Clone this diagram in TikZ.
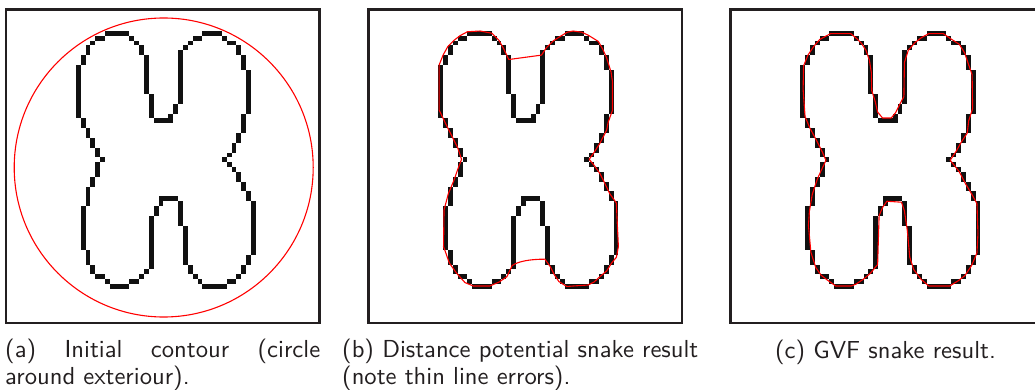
\documentclass[tikz,border=0pt]{standalone}
\usepackage{fontspec}
\newfontfamily\capfont{lmsans10-regular.otf}
\definecolor{framegray}{HTML}{231F20}
\definecolor{pixblack}{HTML}{111111}
\definecolor{snakered}{HTML}{FF0000}

% one run of image pixels, columns #1..#3, rows #2..#4 (inclusive)
\newcommand\pxrun[4]{\fill[pixblack] (#1,#2) rectangle ({#3+1},{#4+1});}

% the 64x64 binary test image: a one-pixel contour shaped like an X
\newcommand\blobpixels{%
  % upper left lobe
  \pxrun{20}{4}{24}{4}\pxrun{18}{5}{19}{5}\pxrun{25}{5}{25}{5}
  \pxrun{17}{6}{17}{6}\pxrun{26}{6}{26}{6}
  \pxrun{16}{7}{16}{8}\pxrun{27}{7}{27}{8}
  \pxrun{15}{9}{15}{10}\pxrun{28}{9}{28}{16}
  \pxrun{14}{11}{14}{21}\pxrun{29}{17}{29}{21}
  \pxrun{30}{22}{33}{22}
  \pxrun{15}{22}{15}{23}\pxrun{16}{24}{16}{25}\pxrun{17}{26}{17}{27}
  \pxrun{18}{28}{18}{29}\pxrun{19}{30}{19}{30}
  % upper right lobe
  \pxrun{33}{21}{33}{21}\pxrun{34}{19}{34}{20}\pxrun{35}{8}{35}{18}
  \pxrun{36}{7}{36}{7}\pxrun{37}{6}{37}{6}\pxrun{38}{5}{39}{5}
  \pxrun{40}{4}{43}{4}\pxrun{44}{5}{44}{5}\pxrun{45}{6}{46}{6}
  \pxrun{47}{7}{47}{8}\pxrun{48}{9}{48}{11}\pxrun{49}{12}{49}{20}
  \pxrun{48}{21}{48}{24}\pxrun{47}{25}{47}{26}\pxrun{46}{27}{46}{28}
  \pxrun{45}{29}{45}{29}\pxrun{44}{30}{44}{30}
  % lower left lobe
  \pxrun{18}{31}{18}{33}\pxrun{17}{34}{17}{35}\pxrun{16}{36}{16}{39}
  \pxrun{15}{40}{15}{48}\pxrun{16}{49}{16}{51}\pxrun{17}{52}{17}{53}
  \pxrun{18}{54}{19}{54}\pxrun{20}{55}{20}{55}\pxrun{21}{56}{24}{56}
  \pxrun{25}{55}{26}{55}\pxrun{27}{54}{27}{54}\pxrun{28}{53}{28}{53}
  \pxrun{29}{42}{29}{52}\pxrun{30}{40}{30}{41}\pxrun{31}{39}{31}{39}
  \pxrun{31}{38}{34}{38}
  % lower right lobe
  \pxrun{35}{39}{35}{43}\pxrun{36}{44}{36}{51}\pxrun{37}{52}{37}{53}
  \pxrun{38}{54}{38}{54}\pxrun{39}{55}{39}{55}\pxrun{40}{56}{44}{56}
  \pxrun{45}{55}{46}{55}\pxrun{47}{54}{47}{54}\pxrun{48}{52}{48}{53}
  \pxrun{49}{50}{49}{51}\pxrun{50}{39}{50}{49}\pxrun{49}{37}{49}{38}
  \pxrun{48}{35}{48}{36}\pxrun{47}{33}{47}{34}\pxrun{46}{32}{46}{32}
  \pxrun{45}{31}{45}{31}
}

\tikzset{
  panelframe/.style={draw=framegray, line width=2.4pt},
  snake/.style={draw=snakered, line width=1.1pt, line join=round},
  caption/.style={inner sep=0pt, text=framegray, font=\capfont\fontsize{24.6}{28}\selectfont},
  pixgrid/.style={x=4.87pt, y=-4.87pt}
}

\begin{document}
\begin{tikzpicture}[x=1pt, y=-1pt]
\useasboundingbox (0,0) rectangle (1035,390);
\fill[white] (0,0) rectangle (1035,390);

% ---------- (a) initial contour ----------
\begin{scope}[shift={(7.6,11.3)}, pixgrid]
  \blobpixels
\end{scope}
\draw[snake] (163.7,167.5) circle (149.5pt);
\draw[panelframe] (6.2,9.5) rectangle (319.5,322.8);

% ---------- (b) distance potential snake ----------
\begin{scope}[shift={(370.0,11.3)}, pixgrid]
  \blobpixels
  \draw[snake] (14.2,11) -- (15,9) -- (16,7.2) -- (17.2,6) -- (18.5,5) -- (20,4.2)
    -- (22.6,4.05) -- (25,4.5) -- (26.5,6) -- (27.4,7.6) -- (28.5,9.9)
    -- (35.2,9) -- (36.2,7.5) -- (37.6,6.1) -- (39,5.2) -- (40.5,4.3) -- (41.7,4.05)
    -- (43.5,4.3) -- (44.8,4.9) -- (46.9,6.2) -- (47.8,7.8) -- (48.6,9.6) -- (49.5,12.5)
    -- (49.8,14.5) -- (49.8,20.3) -- (48.9,22.8) -- (48.6,24.4) -- (47.2,27.1)
    -- (46,29) -- (45,30.4) -- (46,31.6) -- (47.2,33.3) -- (48.2,35.3) -- (49.2,37.4)
    -- (50.6,39.4) -- (50.7,42) -- (51,48.3) -- (50.6,50.5) -- (49.6,51.7)
    -- (48.6,53.3) -- (47.2,54.5) -- (46,55.6) -- (44.8,56.2) -- (40.4,56.5)
    -- (38.8,55.5) -- (37.8,54) -- (37,52.4) -- (35.9,50.9)
    .. controls (33,50.9) and (30.5,51.3) .. (29.2,52.2)
    -- (28.1,54.5) -- (26.5,55.6) -- (24.6,56.4) -- (21.2,56.4) -- (19.5,55.7)
    -- (17.8,53.8) -- (16.3,51.7) -- (15.1,48.3) -- (15.2,40.8) -- (16.1,37.4)
    -- (17.2,34.8) -- (18,32.5) -- (18.8,30.4) -- (18,28) -- (16.9,25.8)
    -- (15.5,23) -- (14.2,20.3) -- cycle;
\end{scope}
\draw[panelframe] (368.6,9.5) rectangle (681.9,322.8);

% ---------- (c) GVF snake ----------
\begin{scope}[shift={(732.0,11.3)}, pixgrid]
  \blobpixels
  \draw[snake] (20.2,4.6) -- (24.4,4.6) -- (25.6,5.6) -- (26.6,6.6) -- (27.5,8)
    -- (28.2,10) -- (28.6,12.5) -- (28.7,16.3) -- (29.4,18.5) -- (29.9,20.7)
    -- (30.9,21.9) -- (32.7,21.9) -- (33.6,20.8) -- (34.4,19.2) -- (35.3,17.5)
    -- (35.4,10.5) -- (36.2,8) -- (37.6,6.4) -- (38.9,5.4) -- (40.4,4.6)
    -- (43.4,4.6) -- (45,5.7) -- (46.7,6.8) -- (47.8,8.6) -- (48.6,11) -- (49.3,13)
    -- (49.4,20) -- (48.6,22.5) -- (48.3,25) -- (47,27) -- (46,28.8) -- (44.8,30.6)
    -- (45.7,31.7) -- (46.7,33) -- (48,35.5) -- (49.2,37.5) -- (50.3,39.5)
    -- (50.5,45.6) -- (50.3,49.6) -- (49.2,52.2) -- (47.8,54.3) -- (46.5,55.3)
    -- (44.7,56.4) -- (40.4,56.4) -- (38.8,55) -- (37.3,53) -- (36.5,50.5)
    -- (36,45) -- (35.4,41) -- (34.8,39.2) -- (31.8,39) -- (30.9,40.3) -- (30.2,42)
    -- (29.9,52) -- (28.4,53.8) -- (27,55) -- (25.5,56) -- (24.5,56.4)
    -- (21.3,56.4) -- (19.6,55.2) -- (18.3,54.2) -- (17.2,52.6) -- (16.2,49.5)
    -- (15.7,44) -- (15.9,41) -- (16.5,37.5) -- (17.5,34.5) -- (18.4,32.5)
    -- (19.3,30.6) -- (18.5,28.8) -- (17.4,26.6) -- (16,24) -- (15,21.6)
    -- (14.6,16) -- (14.7,11.2) -- (15.6,9) -- (16.8,7.2) -- (18,5.8) -- cycle;
\end{scope}
\draw[panelframe] (1040,9.5) -- (730.5,9.5) -- (730.5,322.8) -- (1040,322.8);

% ---------- captions ----------
\node[caption, anchor=base west] (capa1) at (5,357)
  {\makebox[315pt][s]{(a) Initial contour (circle}};
\node[caption, anchor=base west] (capa2) at (5,384) {around exteriour).};
\node[caption, anchor=base west] (capb1) at (342,357) {(b) Distance potential snake result};
\node[caption, anchor=base west] (capb2) at (342,384) {(note thin line errors).};
\node[caption, anchor=base] (capc) at (885.5,358) {(c) GVF snake result.};
\end{tikzpicture}
\end{document}
